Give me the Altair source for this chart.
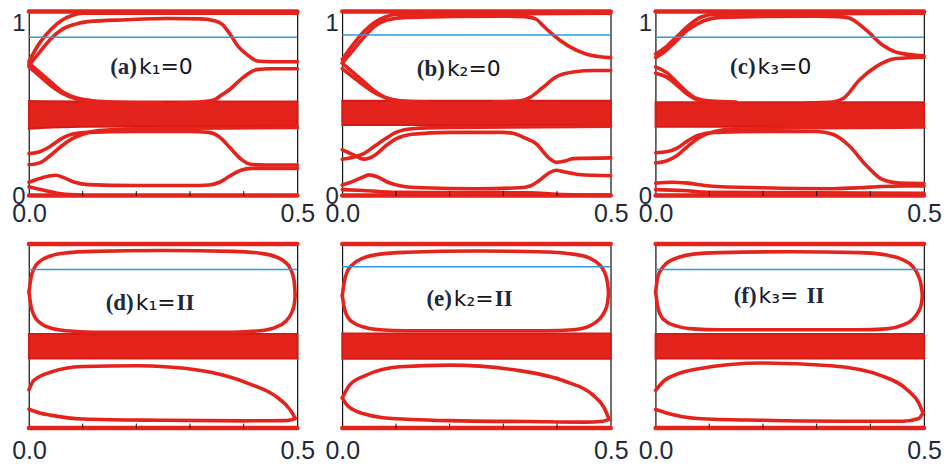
import altair as alt
import pandas as pd

RED = "#e5231d"
BLUE = "#2e9bd8"

X_LABELS = [0.0, 0.5]
Y_LABELS = [0, 1]
X_TICKS = [0.1, 0.2, 0.3, 0.4]

EDGE = {"top": [(0, 1.0), (0.5, 1.0)], "base": [(0, 0.003), (0.5, 0.003)]}

CURVES_A = {
    "u1": [(0, 0.73), (0.02, 0.83), (0.04, 0.90), (0.06, 0.95), (0.08, 0.978), (0.10, 0.99), (0.5, 0.99)],
    "u2": [(0, 0.71), (0.02, 0.78), (0.04, 0.85), (0.06, 0.90), (0.085, 0.93), (0.11, 0.945), (0.18, 0.955),
           (0.26, 0.962), (0.32, 0.96), (0.345, 0.95), (0.36, 0.93), (0.375, 0.875), (0.39, 0.81),
           (0.407, 0.765), (0.425, 0.732), (0.45, 0.728), (0.5, 0.728)],
    "d1": [(0, 0.72), (0.02, 0.67), (0.04, 0.62), (0.06, 0.57), (0.08, 0.54), (0.11, 0.52), (0.15, 0.51), (0.25, 0.505)],
    "d2": [(0, 0.70), (0.02, 0.65), (0.04, 0.60), (0.06, 0.56), (0.09, 0.525), (0.13, 0.51), (0.2, 0.505)],
    "r1": [(0.28, 0.505), (0.32, 0.51), (0.344, 0.52), (0.36, 0.55), (0.375, 0.58), (0.39, 0.62), (0.407, 0.66),
           (0.424, 0.685), (0.45, 0.69), (0.5, 0.69)],
    "l1": [(0, 0.23), (0.02, 0.24), (0.04, 0.27), (0.06, 0.31), (0.08, 0.335), (0.11, 0.345), (0.2, 0.35),
           (0.3, 0.35), (0.335, 0.345), (0.355, 0.32), (0.375, 0.26), (0.395, 0.20), (0.413, 0.172),
           (0.44, 0.168), (0.5, 0.168)],
    "l2": [(0, 0.17), (0.02, 0.18), (0.04, 0.22), (0.06, 0.27), (0.08, 0.31), (0.10, 0.335), (0.13, 0.355),
           (0.2, 0.365), (0.5, 0.372)],
    "l3": [(0, 0.075), (0.02, 0.095), (0.04, 0.11), (0.05, 0.113), (0.065, 0.10), (0.085, 0.075), (0.11, 0.062),
           (0.2, 0.057), (0.3, 0.057), (0.335, 0.06), (0.355, 0.075), (0.375, 0.11), (0.395, 0.14),
           (0.413, 0.15), (0.45, 0.15), (0.5, 0.15)],
    "l4": [(0, 0.05), (0.03, 0.03), (0.06, 0.012), (0.1, 0.005)],
}
BULK_A = {"x": [0, 0.1, 0.5], "lo": [0.365, 0.375, 0.38], "hi": [0.515, 0.513, 0.513]}

CURVES_B = {
    "u1": [(0, 0.74), (0.02, 0.82), (0.04, 0.89), (0.06, 0.94), (0.08, 0.97), (0.10, 0.985), (0.5, 0.99)],
    "u2": [(0, 0.72), (0.02, 0.79), (0.04, 0.86), (0.06, 0.92), (0.085, 0.955), (0.12, 0.968), (0.3, 0.975),
           (0.34, 0.972), (0.36, 0.96), (0.375, 0.92), (0.39, 0.88), (0.42, 0.815), (0.454, 0.77),
           (0.48, 0.755), (0.5, 0.75)],
    "d1": [(0, 0.72), (0.02, 0.67), (0.04, 0.62), (0.06, 0.57), (0.08, 0.535), (0.11, 0.515), (0.16, 0.51)],
    "d2": [(0, 0.69), (0.02, 0.645), (0.04, 0.60), (0.06, 0.56), (0.09, 0.525), (0.13, 0.51)],
    "r1": [(0.28, 0.51), (0.33, 0.515), (0.35, 0.535), (0.373, 0.587), (0.398, 0.645), (0.43, 0.672),
           (0.47, 0.68), (0.5, 0.68)],
    "l1": [(0, 0.25), (0.02, 0.225), (0.04, 0.20), (0.06, 0.22), (0.08, 0.27), (0.10, 0.31), (0.13, 0.335),
           (0.2, 0.345), (0.3, 0.345), (0.318, 0.34), (0.34, 0.315), (0.36, 0.286), (0.385, 0.206),
           (0.398, 0.183), (0.415, 0.19), (0.43, 0.203), (0.5, 0.207)],
    "l2": [(0, 0.20), (0.02, 0.21), (0.04, 0.23), (0.06, 0.27), (0.08, 0.31), (0.10, 0.345), (0.13, 0.365),
           (0.2, 0.372), (0.5, 0.378)],
    "l3": [(0, 0.06), (0.02, 0.08), (0.04, 0.105), (0.05, 0.115), (0.065, 0.105), (0.085, 0.075), (0.11, 0.055),
           (0.15, 0.045), (0.25, 0.04), (0.33, 0.045), (0.35, 0.055), (0.367, 0.085), (0.385, 0.125),
           (0.398, 0.14), (0.415, 0.13), (0.44, 0.117), (0.5, 0.11)],
    "l4": [(0, 0.035), (0.04, 0.03), (0.1, 0.02), (0.35, 0.018), (0.4, 0.01), (0.5, 0.005)],
}
BULK_B = {"x": [0, 0.5], "lo": [0.385, 0.385], "hi": [0.517, 0.517]}

CURVES_C = {
    "u1": [(0, 0.77), (0.02, 0.81), (0.04, 0.865), (0.06, 0.92), (0.085, 0.97), (0.11, 0.985), (0.5, 0.99)],
    "u2": [(0, 0.75), (0.02, 0.79), (0.04, 0.845), (0.06, 0.90), (0.09, 0.95), (0.12, 0.968), (0.3, 0.975),
           (0.34, 0.972), (0.36, 0.965), (0.392, 0.90), (0.422, 0.82), (0.454, 0.775), (0.5, 0.76)],
    "d1": [(0, 0.70), (0.02, 0.67), (0.04, 0.615), (0.06, 0.56), (0.075, 0.53), (0.1, 0.515), (0.15, 0.51)],
    "d2": [(0, 0.665), (0.02, 0.645), (0.04, 0.60), (0.06, 0.55), (0.08, 0.52), (0.12, 0.51)],
    "r1": [(0.28, 0.505), (0.33, 0.51), (0.35, 0.53), (0.38, 0.63), (0.41, 0.70), (0.448, 0.745), (0.5, 0.752)],
    "l1": [(0, 0.235), (0.02, 0.24), (0.04, 0.26), (0.06, 0.30), (0.08, 0.33), (0.11, 0.345), (0.2, 0.35),
           (0.3, 0.35), (0.33, 0.335), (0.36, 0.274), (0.392, 0.167), (0.422, 0.09), (0.454, 0.07), (0.5, 0.068)],
    "l2": [(0, 0.18), (0.02, 0.19), (0.04, 0.22), (0.06, 0.27), (0.08, 0.315), (0.11, 0.35), (0.15, 0.365),
           (0.5, 0.375)],
    "l3": [(0, 0.07), (0.03, 0.075), (0.06, 0.07), (0.1, 0.055), (0.2, 0.045), (0.33, 0.04), (0.38, 0.045),
           (0.42, 0.052), (0.46, 0.055), (0.5, 0.055)],
    "l4": [(0, 0.035), (0.05, 0.03), (0.1, 0.02), (0.5, 0.015)],
}
BULK_C = {"x": [0, 0.5], "lo": [0.375, 0.375], "hi": [0.508, 0.508]}

CURVES_D = {
    "ut": [(0, 0.74), (0.004, 0.82), (0.01, 0.87), (0.02, 0.905), (0.04, 0.935), (0.07, 0.952), (0.12, 0.96),
           (0.25, 0.965), (0.38, 0.96), (0.43, 0.95), (0.46, 0.93), (0.478, 0.90), (0.488, 0.86), (0.494, 0.80),
           (0.496, 0.72)],
    "ub": [(0, 0.74), (0.004, 0.66), (0.01, 0.61), (0.02, 0.575), (0.04, 0.545), (0.07, 0.53), (0.12, 0.522),
           (0.38, 0.522), (0.43, 0.53), (0.46, 0.55), (0.478, 0.58), (0.488, 0.62), (0.494, 0.67), (0.496, 0.72)],
    "lt": [(0, 0.21), (0.009, 0.26), (0.04, 0.305), (0.1, 0.336), (0.2, 0.34), (0.32, 0.315), (0.413, 0.24),
           (0.462, 0.17), (0.487, 0.10), (0.496, 0.055)],
    "lb": [(0, 0.105), (0.02, 0.085), (0.04, 0.073), (0.1, 0.052), (0.25, 0.045), (0.4, 0.042), (0.47, 0.043),
           (0.49, 0.048), (0.496, 0.055)],
}
BULK_D = {"x": [0, 0.5], "lo": [0.38, 0.38], "hi": [0.512, 0.512]}

CURVES_E = {
    "ut": [(0, 0.72), (0.004, 0.80), (0.01, 0.855), (0.02, 0.89), (0.04, 0.925), (0.07, 0.945), (0.12, 0.955),
           (0.25, 0.962), (0.38, 0.957), (0.43, 0.945), (0.46, 0.925), (0.478, 0.89), (0.488, 0.85),
           (0.494, 0.79), (0.496, 0.735)],
    "ub": [(0, 0.72), (0.004, 0.65), (0.01, 0.605), (0.02, 0.575), (0.04, 0.55), (0.07, 0.535), (0.12, 0.53),
           (0.38, 0.53), (0.43, 0.535), (0.46, 0.555), (0.478, 0.59), (0.488, 0.63), (0.494, 0.68), (0.496, 0.735)],
    "lt": [(0, 0.166), (0.014, 0.237), (0.045, 0.29), (0.107, 0.335), (0.2, 0.344), (0.323, 0.317),
           (0.416, 0.255), (0.466, 0.184), (0.488, 0.112), (0.497, 0.05)],
    "lb": [(0, 0.166), (0.008, 0.13), (0.02, 0.103), (0.04, 0.08), (0.076, 0.059), (0.2, 0.043), (0.35, 0.038),
           (0.45, 0.035), (0.485, 0.04), (0.497, 0.05)],
}
BULK_E = {"x": [0, 0.5], "lo": [0.378, 0.378], "hi": [0.515, 0.515]}

CURVES_F = {
    "ut": [(0, 0.74), (0.004, 0.82), (0.01, 0.86), (0.02, 0.895), (0.04, 0.925), (0.07, 0.945), (0.12, 0.953),
           (0.25, 0.958), (0.38, 0.953), (0.43, 0.94), (0.46, 0.915), (0.478, 0.88), (0.489, 0.83), (0.495, 0.77),
           (0.497, 0.72)],
    "ub": [(0, 0.74), (0.004, 0.66), (0.01, 0.61), (0.02, 0.58), (0.04, 0.555), (0.07, 0.54), (0.12, 0.535),
           (0.38, 0.535), (0.43, 0.54), (0.46, 0.56), (0.478, 0.59), (0.489, 0.63), (0.495, 0.675), (0.497, 0.72)],
    "lt": [(0, 0.207), (0.016, 0.26), (0.04, 0.295), (0.078, 0.323), (0.2, 0.355), (0.327, 0.34), (0.42, 0.287),
           (0.47, 0.207), (0.49, 0.14), (0.498, 0.085)],
    "lb": [(0, 0.103), (0.02, 0.085), (0.078, 0.055), (0.2, 0.045), (0.35, 0.04), (0.46, 0.04), (0.49, 0.055),
           (0.498, 0.085)],
}
BULK_F = {"x": [0, 0.5], "lo": [0.38, 0.38], "hi": [0.512, 0.512]}

BLUE_LEVELS = [0.86, 0.873, 0.86, 0.862, 0.877, 0.862]
TAGS = ["(a)", "(b)", "(c)", "(d)", "(e)", "(f)"]
KTEXT = ["k\u2081=0", "k\u2082=0", "k\u2083=0", "k\u2081=", "k\u2082=", "k\u2083= "]
KVALUE = ["", "", "", "II", "II", "II"]

PANELS = [
    (CURVES_A, BULK_A, (0.203, 0.70), True),
    (CURVES_B, BULK_B, (0.193, 0.69), True),
    (CURVES_C, BULK_C, (0.188, 0.70), True),
    (CURVES_D, BULK_D, (0.197, 0.68), False),
    (CURVES_E, BULK_E, (0.206, 0.70), False),
    (CURVES_F, BULK_F, (0.190, 0.72), False),
]

W, H = 269, 185
KSIZE = 22


def make_panel(idx):
    curves, bulk, pos, top_row = PANELS[idx]
    rows = []
    for name, pts in list(EDGE.items()) + list(curves.items()):
        for i, (x, y) in enumerate(pts):
            rows.append({"curve": name, "x": x, "y": y, "i": i, "edge": name in EDGE})
    df = pd.DataFrame(rows)

    xs = alt.Scale(domain=[0, 0.5], nice=False, zero=False)
    ys = alt.Scale(domain=[0, 1], nice=False, zero=False)
    xaxis = alt.Axis(values=X_LABELS, format=".1f", labelFontSize=25, labelFont="Liberation Sans",
                     labelColor="#1e2a3a", labelFlush=False, ticks=False, domain=False, grid=False,
                     labelPadding=5 if top_row else 10, title=None, labelOverlap=False)
    if top_row:
        yaxis = alt.Axis(values=Y_LABELS, format="d", labelFontSize=24, labelFont="Liberation Sans",
                         labelColor="#1e2a3a", ticks=False, domain=False, grid=False, labelPadding=4,
                         title=None,
                         labelBaseline={"condition": {"test": "datum.value == 1", "value": "top"},
                                        "value": "middle"})
    else:
        yaxis = None

    X = lambda f: alt.X(f, type="quantitative", scale=xs, axis=xaxis)
    Y = lambda f: alt.Y(f, type="quantitative", scale=ys, axis=yaxis)

    bulk_layer = alt.Chart(pd.DataFrame(bulk)).mark_area(
        color=RED, stroke="#d41c17", strokeWidth=2, interpolate="monotone"
    ).encode(x=X("x"), y=Y("lo"), y2="hi")

    lines = alt.Chart(df).mark_line(interpolate="monotone", strokeCap="round", strokeJoin="round").encode(
        x=X("x"), y=Y("y"), detail="curve:N", order="i:Q",
        color=alt.value(RED),
        strokeWidth=alt.condition("datum.edge", alt.value(4.5), alt.value(3.6)),
    )

    blue = alt.Chart(pd.DataFrame({"y": [BLUE_LEVELS[idx]]})).mark_rule(
        color=BLUE, strokeWidth=1.5
    ).encode(y=Y("y"), x=alt.value(0), x2=alt.value(W))

    ticks = alt.Chart(pd.DataFrame({"x": X_TICKS})).mark_rule(color="#111", strokeWidth=1).encode(
        x=X("x"), y=alt.value(H), y2=alt.value(H - 5)
    )

    lab = pd.DataFrame({"x": [pos[0]], "y": [pos[1]], "tag": [TAGS[idx]], "k": [KTEXT[idx]],
                        "v": [KVALUE[idx]]})
    tag = alt.Chart(lab).mark_text(
        align="right", baseline="middle", dx=-1, font="Liberation Serif", fontWeight="bold",
        fontSize=23, color="#1c2840"
    ).encode(x=X("x"), y=Y("y"), text="tag:N")
    ktx = alt.Chart(lab).mark_text(
        align="left", baseline="middle", dx=1, font="DejaVu Sans", fontSize=KSIZE, color="#15151c"
    ).encode(x=X("x"), y=Y("y"), text="k:N")
    layers = [bulk_layer, lines, blue, ticks, tag, ktx]
    if KVALUE[idx]:
        k_width = (0.579 + 0.401 + 0.838 + (0.318 if KTEXT[idx].endswith(" ") else 0)) * KSIZE
        vtx = alt.Chart(lab).mark_text(
            align="left", baseline="middle", dx=2 + k_width, font="Liberation Serif", fontWeight="bold",
            fontSize=23, color="#1c2840"
        ).encode(x=X("x"), y=Y("y"), text="v:N")
        layers.append(vtx)

    return alt.layer(*layers).properties(width=W, height=H)


panels = [make_panel(i) for i in range(6)]

chart = alt.concat(
    *panels, columns=3, spacing={"row": 48, "column": 45}, bounds="flush"
).properties(
    padding={"left": 3, "top": 0, "right": 0, "bottom": 0}, background="white"
).configure_view(
    stroke="#111", strokeWidth=1.2
)

chart.save("out.html", embed_options={"renderer": "svg", "actions": False})
